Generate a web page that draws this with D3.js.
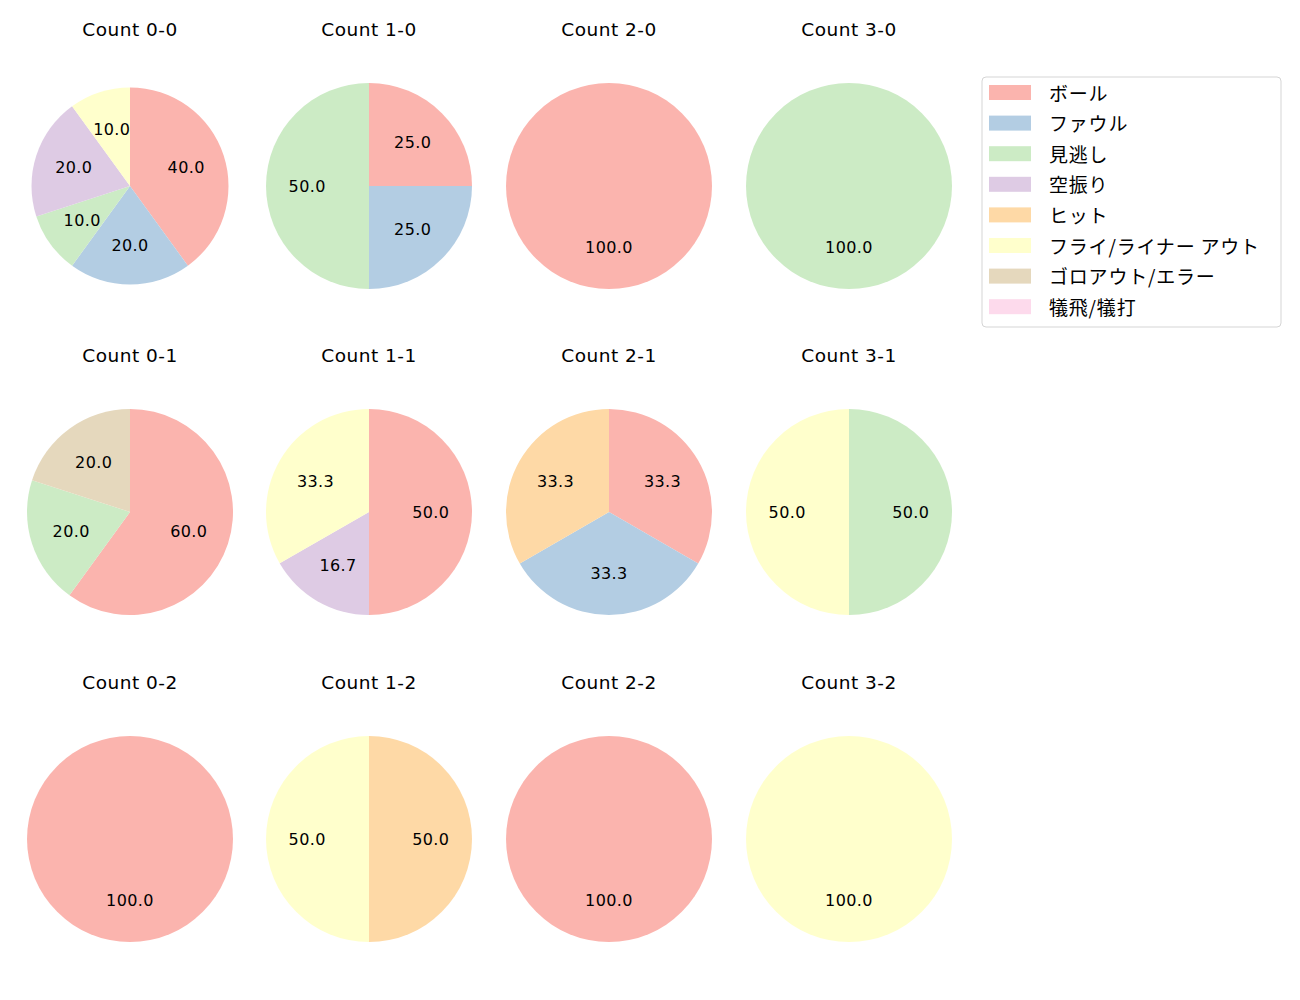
<!DOCTYPE html>
<html>
<head>
<meta charset="utf-8">
<script src="https://cdn.jsdelivr.net/npm/d3@7"></script>
<style>
body { margin: 0; background: #fff; }
text { font-family: "DejaVu Sans", sans-serif; fill: #000; }
text.jp { font-family: "Noto Sans CJK JP", sans-serif; }
</style>
</head>
<body>
<div id="vis"></div>
<script>
var w = 1300, h = 1000;

var categories = ["ボール", "ファウル", "見逃し", "空振り", "ヒット", "フライ/ライナー アウト", "ゴロアウト/エラー", "犠飛/犠打"];
var colors = ["#fbb4ae", "#b3cde3", "#ccebc5", "#decbe4", "#fed9a6", "#ffffcc", "#e5d8bd", "#fddaec"];

var counts = ["0-0", "1-0", "2-0", "3-0", "0-1", "1-1", "2-1", "3-1", "0-2", "1-2", "2-2", "3-2"];
// percentages per category, same order as categories
var values = [
  [40, 20, 10, 20, 0, 10, 0, 0],
  [25, 25, 50, 0, 0, 0, 0, 0],
  [100, 0, 0, 0, 0, 0, 0, 0],
  [0, 0, 100, 0, 0, 0, 0, 0],
  [60, 0, 20, 0, 0, 0, 20, 0],
  [50, 0, 0, 16.7, 0, 33.3, 0, 0],
  [33.3, 33.3, 0, 0, 33.3, 0, 0, 0],
  [0, 0, 50, 0, 0, 50, 0, 0],
  [100, 0, 0, 0, 0, 0, 0, 0],
  [0, 0, 0, 0, 50, 50, 0, 0],
  [100, 0, 0, 0, 0, 0, 0, 0],
  [0, 0, 0, 0, 0, 100, 0, 0]
];

var colX = [130, 369, 609, 849];
var rowY = [186, 512, 839];

var svg = d3.select("div#vis").append("svg")
  .attr("width", w)
  .attr("height", h);

var pie = d3.pie().sort(null).value(function(d) { return d.v; });

counts.forEach(function(c, k) {
  var cx = colX[k % 4], cy = rowY[Math.floor(k / 4)];
  var r = k === 0 ? 98.5 : 103;
  var data = values[k].map(function(v, i) { return {v: v, i: i}; });
  var arcs = pie(data).filter(function(a) { return a.data.v > 0; });
  var arc = d3.arc().innerRadius(0).outerRadius(r);
  var g = svg.append("g").attr("transform", "translate(" + cx + "," + cy + ")");

  g.selectAll("path").data(arcs).enter().append("path")
    .attr("d", arc)
    .style("fill", function(d) { return colors[d.data.i]; });

  g.selectAll("text.lbl").data(arcs).enter().append("text")
    .attr("class", "lbl")
    .attr("x", function(d) { var a = (d.startAngle + d.endAngle) / 2; return 0.6 * r * Math.sin(a); })
    .attr("y", function(d) { var a = (d.startAngle + d.endAngle) / 2; return -0.6 * r * Math.cos(a); })
    .attr("text-anchor", "middle")
    .attr("dominant-baseline", "central")
    .style("font-size", "16px")
    .style("letter-spacing", "0.4px")
    .text(function(d) { return d.data.v.toFixed(1); });

  svg.append("text")
    .attr("x", cx)
    .attr("y", cy - 157)
    .attr("text-anchor", "middle")
    .attr("dominant-baseline", "central")
    .style("font-size", "18.5px")
    .style("letter-spacing", "0.5px")
    .text("Count " + c);
});

// legend
var lg = svg.append("g");
lg.append("rect")
  .attr("x", 982).attr("y", 77)
  .attr("width", 299).attr("height", 250)
  .attr("rx", 4)
  .style("fill", "#fff")
  .style("stroke", "#d5d5d5");

lg.selectAll("rect.sw").data(categories).enter().append("rect")
  .attr("class", "sw")
  .attr("x", 989)
  .attr("y", function(d, i) { return 85 + i * 30.6; })
  .attr("width", 42).attr("height", 15)
  .style("fill", function(d, i) { return colors[i]; });

lg.selectAll("text").data(categories).enter().append("text")
  .attr("class", "jp")
  .attr("x", 1049)
  .attr("y", function(d, i) { return 92 + i * 30.6; })
  .attr("dominant-baseline", "central")
  .style("font-size", "19px")
  .style("letter-spacing", "0.8px")
  .text(function(d) { return d; });
</script>
</body>
</html>
